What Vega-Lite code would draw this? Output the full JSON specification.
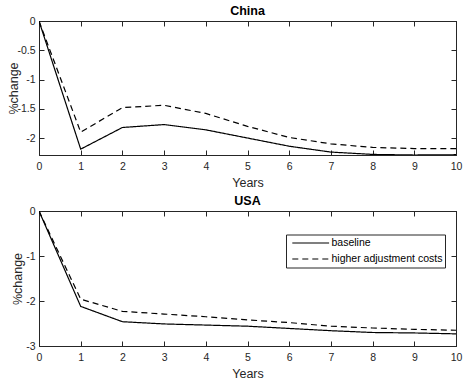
{
  "$schema": "https://vega.github.io/schema/vega-lite/v6.json",
  "background": "white",
  "padding": {"left": 6, "top": 4, "right": 1, "bottom": 2},
  "bounds": "flush",
  "spacing": 56,
  "resolve": {"scale": {"strokeDash": "independent"}, "legend": {"strokeDash": "independent"}},
  "datasets": {
    "d": [
      {"country": "China", "year": 0, "scenario": "baseline", "value": 0},
      {"country": "China", "year": 1, "scenario": "baseline", "value": -2.19},
      {"country": "China", "year": 2, "scenario": "baseline", "value": -1.82},
      {"country": "China", "year": 3, "scenario": "baseline", "value": -1.77},
      {"country": "China", "year": 4, "scenario": "baseline", "value": -1.86},
      {"country": "China", "year": 5, "scenario": "baseline", "value": -2.0},
      {"country": "China", "year": 6, "scenario": "baseline", "value": -2.14},
      {"country": "China", "year": 7, "scenario": "baseline", "value": -2.24},
      {"country": "China", "year": 8, "scenario": "baseline", "value": -2.28},
      {"country": "China", "year": 9, "scenario": "baseline", "value": -2.29},
      {"country": "China", "year": 10, "scenario": "baseline", "value": -2.285},
      {"country": "China", "year": 0, "scenario": "higher adjustment costs", "value": 0},
      {"country": "China", "year": 1, "scenario": "higher adjustment costs", "value": -1.9},
      {"country": "China", "year": 2, "scenario": "higher adjustment costs", "value": -1.48},
      {"country": "China", "year": 3, "scenario": "higher adjustment costs", "value": -1.44},
      {"country": "China", "year": 4, "scenario": "higher adjustment costs", "value": -1.58},
      {"country": "China", "year": 5, "scenario": "higher adjustment costs", "value": -1.8},
      {"country": "China", "year": 6, "scenario": "higher adjustment costs", "value": -1.99},
      {"country": "China", "year": 7, "scenario": "higher adjustment costs", "value": -2.1},
      {"country": "China", "year": 8, "scenario": "higher adjustment costs", "value": -2.16},
      {"country": "China", "year": 9, "scenario": "higher adjustment costs", "value": -2.18},
      {"country": "China", "year": 10, "scenario": "higher adjustment costs", "value": -2.18},
      {"country": "USA", "year": 0, "scenario": "baseline", "value": 0},
      {"country": "USA", "year": 1, "scenario": "baseline", "value": -2.12},
      {"country": "USA", "year": 2, "scenario": "baseline", "value": -2.46},
      {"country": "USA", "year": 3, "scenario": "baseline", "value": -2.51},
      {"country": "USA", "year": 4, "scenario": "baseline", "value": -2.535},
      {"country": "USA", "year": 5, "scenario": "baseline", "value": -2.56},
      {"country": "USA", "year": 6, "scenario": "baseline", "value": -2.61},
      {"country": "USA", "year": 7, "scenario": "baseline", "value": -2.66},
      {"country": "USA", "year": 8, "scenario": "baseline", "value": -2.7},
      {"country": "USA", "year": 9, "scenario": "baseline", "value": -2.71},
      {"country": "USA", "year": 10, "scenario": "baseline", "value": -2.73},
      {"country": "USA", "year": 0, "scenario": "higher adjustment costs", "value": 0},
      {"country": "USA", "year": 1, "scenario": "higher adjustment costs", "value": -1.96},
      {"country": "USA", "year": 2, "scenario": "higher adjustment costs", "value": -2.23},
      {"country": "USA", "year": 3, "scenario": "higher adjustment costs", "value": -2.29},
      {"country": "USA", "year": 4, "scenario": "higher adjustment costs", "value": -2.35},
      {"country": "USA", "year": 5, "scenario": "higher adjustment costs", "value": -2.42},
      {"country": "USA", "year": 6, "scenario": "higher adjustment costs", "value": -2.48},
      {"country": "USA", "year": 7, "scenario": "higher adjustment costs", "value": -2.56},
      {"country": "USA", "year": 8, "scenario": "higher adjustment costs", "value": -2.6},
      {"country": "USA", "year": 9, "scenario": "higher adjustment costs", "value": -2.63},
      {"country": "USA", "year": 10, "scenario": "higher adjustment costs", "value": -2.65}
    ]
  },
  "vconcat": [
    {
      "title": {"text": "China", "fontSize": 12.5, "fontWeight": "bold", "color": "black", "offset": -1, "frame": "group"},
      "width": 417,
      "height": 134,
      "data": {"name": "d"},
      "transform": [{"filter": "datum.country === 'China'"}],
      "layer": [
        {
          "mark": {"type": "line", "color": "black", "strokeWidth": 1.2, "clip": true},
          "encoding": {
            "x": {"field": "year", "type": "quantitative", "scale": {"domain": [0, 10], "nice": false}, "axis": {"orient": "bottom", "values": [0,1,2,3,4,5,6,7,8,9,10], "title": "Years"}},
            "y": {"field": "value", "type": "quantitative", "scale": {"domain": [-2.29, 0], "nice": false, "zero": false}, "axis": {"orient": "left", "values": [0, -0.5, -1, -1.5, -2], "format": "~g", "title": "%change", "titleX": -19}},
            "strokeDash": {"field": "scenario", "type": "nominal", "scale": {"domain": ["baseline", "higher adjustment costs"], "range": [[1, 0], [6, 4]]}, "legend": null}
          }
        },
        {
          "mark": {"type": "line", "opacity": 0},
          "encoding": {
            "x": {"field": "year", "type": "quantitative", "axis": {"orient": "top", "values": [0,1,2,3,4,5,6,7,8,9,10], "labels": false, "title": null, "labelPadding": 0}},
            "y": {"field": "value", "type": "quantitative", "axis": {"orient": "right", "values": [0, -0.5, -1, -1.5, -2], "labels": false, "title": null, "labelPadding": 0}},
            "detail": {"field": "scenario"}
          }
        }
      ],
      "resolve": {"axis": {"x": "independent", "y": "independent"}}
    },
    {
      "title": {"text": "USA", "fontSize": 12.5, "fontWeight": "bold", "color": "black", "offset": -1, "frame": "group"},
      "width": 417,
      "height": 135,
      "data": {"name": "d"},
      "transform": [{"filter": "datum.country === 'USA'"}],
      "layer": [
        {
          "mark": {"type": "line", "color": "black", "strokeWidth": 1.2, "clip": true},
          "encoding": {
            "x": {"field": "year", "type": "quantitative", "scale": {"domain": [0, 10], "nice": false}, "axis": {"orient": "bottom", "values": [0,1,2,3,4,5,6,7,8,9,10], "title": "Years"}},
            "y": {"field": "value", "type": "quantitative", "scale": {"domain": [-3, 0], "nice": false, "zero": false}, "axis": {"orient": "left", "values": [0, -1, -2, -3], "format": "~g", "title": "%change", "titleX": -15}},
            "strokeDash": {"field": "scenario", "type": "nominal", "scale": {"domain": ["baseline", "higher adjustment costs"], "range": [[1, 0], [6, 4]]},
              "legend": {"orient": "none", "legendX": 247, "legendY": 23.5, "title": null, "strokeColor": "#262626", "fillColor": "white", "padding": 2.5, "symbolType": "M-0.44,0H6.92", "symbolSize": 100, "symbolStrokeColor": "black", "symbolStrokeWidth": 1.2, "labelFontSize": 10.5, "labelColor": "black", "labelOffset": 31, "rowPadding": 4}}
          }
        },
        {
          "mark": {"type": "line", "opacity": 0},
          "encoding": {
            "x": {"field": "year", "type": "quantitative", "axis": {"orient": "top", "values": [0,1,2,3,4,5,6,7,8,9,10], "labels": false, "title": null, "labelPadding": 0}},
            "y": {"field": "value", "type": "quantitative", "axis": {"orient": "right", "values": [0, -1, -2, -3], "labels": false, "title": null, "labelPadding": 0}},
            "detail": {"field": "scenario"}
          }
        }
      ],
      "resolve": {"axis": {"x": "independent", "y": "independent"}}
    }
  ],
  "config": {
    "font": "Liberation Sans",
    "locale": {"number": {"decimal": ".", "thousands": ",", "grouping": [3], "currency": ["$", ""], "minus": "-"}},
    "view": {"stroke": "#262626", "strokeWidth": 1},
    "axis": {
      "grid": false,
      "domain": true,
      "domainColor": "#262626",
      "tickColor": "#262626",
      "tickSize": -5,
      "labelColor": "#262626",
      "labelFontSize": 10.5,
      "labelPadding": 11,
      "labelFlush": false,
      "titleFontSize": 12.5,
      "titleFontWeight": "normal",
      "titleColor": "#262626",
      "titlePadding": 5
    },
    "axisY": {"labelPadding": 9, "titlePadding": 1}
  }
}
